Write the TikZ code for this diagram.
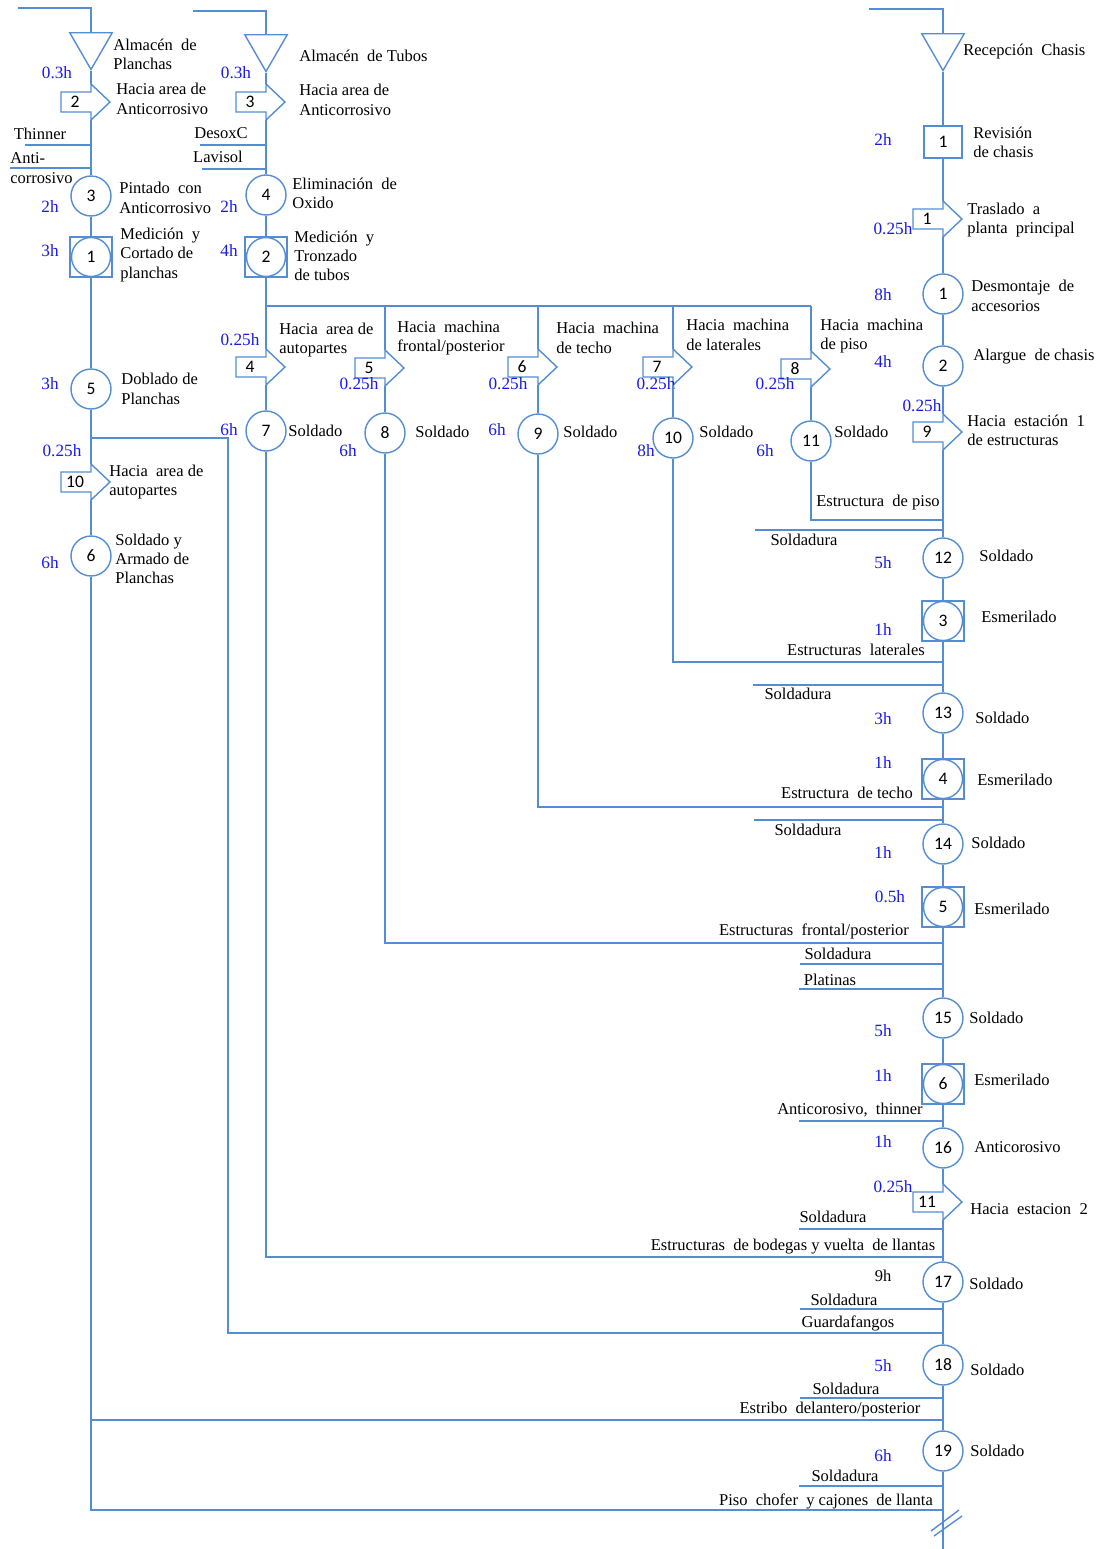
\documentclass[tikz,border=0pt]{standalone}
\usepackage{fontspec}
\setmainfont{Liberation Serif}
\newfontfamily\numfont{Carlito}
\usetikzlibrary{shapes.geometric}
\definecolor{flujo}{RGB}{84,141,212}
\definecolor{tiempo}{RGB}{25,25,235}
\tikzset{
  flow/.style={draw=flujo, line width=0.8pt},
  op/.style={circle, draw=flujo, line width=0.8pt, minimum size=0.8cm, inner sep=0pt, font=\numfont\fontsize{10}{11}\selectfont},
  insp/.style={rectangle, draw=flujo, line width=0.8pt, minimum width=0.76cm, minimum height=0.64cm, inner sep=0pt, font=\numfont\fontsize{10}{11}\selectfont},
  combo/.style={rectangle, draw=flujo, line width=0.8pt, minimum width=0.84cm, minimum height=0.8cm, inner sep=0pt},
  store/.style={regular polygon, regular polygon sides=3, shape border rotate=180, draw=flujo, line width=0.8pt, minimum size=0.98cm, inner sep=0pt},
  num/.style={inner sep=0pt, font=\numfont\fontsize{10}{11}\selectfont},
  txt/.style={anchor=west, align=left, inner sep=0pt, font=\fontsize{9.4}{11}\selectfont},
  lbl/.style={inner sep=0pt, font=\fontsize{9.4}{11}\selectfont},
  hrs/.style={inner sep=0pt, text=tiempo, font=\fontsize{9.8}{11}\selectfont},
}
\newcommand{\Traslado}[4]{
    \draw[flow] (#2-30,#3-10) -- (#2,#3-10) -- (#2,#3-18) -- (#2+19,#3) -- (#2,#3+18) -- (#2,#3+10) -- (#2-30,#3+10) -- cycle;
    \node[num] (#1) at (#2-16,#3) {#4};
    \coordinate (#1t) at (#2,#3-18);
    \coordinate (#1b) at (#2,#3+18);
}
\newcommand{\OpInsp}[4]{
    \node[combo] (#1) at (#2,#3) {};
    \node[op, minimum size=0.78cm] (#1c) at (#2,#3) {#4};
}

\begin{document}
\begin{tikzpicture}[x=0.02cm, y=-0.02cm]
    \useasboundingbox (0,0) rectangle (1100,1549);

    \coordinate (in1) at (18,8);
    \node[store] (t1) at (91,45) {};
    \node[txt] (lt1) at (113,54) {Almacén~ de\\Planchas};
    \node[hrs] (h1) at (57,73) {0.3h};
    \Traslado{a2}{91}{102}{2}
    \node[txt] (la2) at (116,99) {Hacia area de\\Anticorrosivo};
    \node[lbl] (lthin) at (40,134) {Thinner};
    \coordinate (inThin) at (25,145);
    \node[txt] (lanti) at (10,168) {Anti-\\corrosivo};
    \coordinate (inAnti) at (10,168);
    \node[op] (o3) at (91,196) {3};
    \node[txt] (lo3) at (119,198) {Pintado~ con\\Anticorrosivo};
    \node[hrs] (h2) at (50,207) {2h};
    \OpInsp{c1}{91}{257}{1}
    \node[txt] (lc1) at (120,255) {Medición~ y\\Cortado de\\planchas};
    \node[hrs] (h3) at (50,251) {3h};
    \node[op] (o5) at (91,389) {5};
    \node[txt] (lo5) at (121,389) {Doblado de\\Planchas};
    \node[hrs] (h4) at (50,384) {3h};
    \coordinate (jG) at (91,438);
    \node[hrs] (h5) at (62,451) {0.25h};
    \Traslado{a10}{91}{482}{10}
    \node[txt] (la10) at (109,482) {Hacia~ area de\\autopartes};
    \node[op] (o6) at (91,556) {6};
    \node[txt] (lo6) at (115,559) {Soldado y\\Armado de\\Planchas};
    \node[hrs] (h6) at (50,563) {6h};
    \coordinate (jE) at (91,1420);
    \coordinate (jP) at (91,1510);

    \coordinate (in2) at (193,11);
    \node[store] (t2) at (266,47) {};
    \node[txt] (lt2) at (299,56) {Almacén~ de Tubos};
    \node[hrs] (h7) at (236,73) {0.3h};
    \Traslado{a3}{266}{102}{3}
    \node[txt] (la3) at (299,100) {Hacia area de\\Anticorrosivo};
    \node[lbl] (ldes) at (221,133) {DesoxC};
    \coordinate (inDes) at (200,145);
    \node[lbl] (llav) at (218,157) {Lavisol};
    \coordinate (inLav) at (202,169);
    \node[op] (o4) at (266,195) {4};
    \node[txt] (lo4) at (292,193) {Eliminación~ de\\Oxido};
    \node[hrs] (h8) at (229,207) {2h};
    \OpInsp{c2}{266}{257}{2}
    \node[txt] (lc2) at (294,256) {Medición~ y\\Tronzado\\de tubos};
    \node[hrs] (h9) at (229,251) {4h};
    \coordinate (j2) at (266,306);
    \coordinate (jB) at (385,306);
    \coordinate (jC) at (538,306);
    \coordinate (jD) at (673,306);
    \coordinate (jF) at (811,306);

    \Traslado{a4}{266}{367}{4}
    \node[hrs] (h10) at (240,340) {0.25h};
    \node[txt] (la4) at (279,340) {Hacia~ area de\\autopartes};
    \node[op] (o7) at (266,431) {7};
    \node[txt] (lo7) at (288,431) {Soldado};
    \node[hrs] (h11) at (229,430) {6h};

    \Traslado{a5}{385}{368}{5}
    \node[txt] (la5) at (397,338) {Hacia~ machina\\frontal/posterior};
    \node[hrs] (h12) at (359,384) {0.25h};
    \node[op] (o8) at (385,433) {8};
    \node[txt] (lo8) at (415,432) {Soldado};
    \node[hrs] (h13) at (348,451) {6h};

    \Traslado{a6}{538}{367}{6}
    \node[txt] (la6) at (556,338) {Hacia~ machina\\de techo};
    \node[hrs] (h14) at (508,384) {0.25h};
    \node[op] (o9) at (538,434) {9};
    \node[txt] (lo9) at (563,432) {Soldado};
    \node[hrs] (h15) at (497,430) {6h};

    \Traslado{a7}{673}{367}{7}
    \node[txt] (la7) at (686,335) {Hacia~ machina\\de laterales};
    \node[hrs] (h16) at (656,384) {0.25h};
    \node[op] (o10) at (673,438) {10};
    \node[txt] (lo10) at (699,432) {Soldado};
    \node[hrs] (h17) at (646,451) {8h};

    \Traslado{a8}{811}{369}{8}
    \node[txt] (la8) at (820,336) {Hacia~ machina\\de piso};
    \node[hrs] (h18) at (775,384) {0.25h};
    \node[op] (o11) at (811,441) {11};
    \node[txt] (lo11) at (834,432) {Soldado};
    \node[hrs] (h19) at (765,451) {6h};

    \coordinate (in3) at (869,9);
    \node[store] (t3) at (943,46) {};
    \node[txt] (lt3) at (963,52) {Recepción~ Chasis};
    \node[insp] (r1) at (943,142) {1};
    \node[txt] (lr1) at (973,142) {Revisión\\de chasis};
    \node[hrs] (h20) at (883,140) {2h};
    \Traslado{a1}{943}{219}{1}
    \node[txt] (la1) at (967,220) {Traslado~ a\\planta~ principal};
    \node[hrs] (h21) at (893,229) {0.25h};
    \node[op] (d1) at (943,294) {1};
    \node[txt] (ld1) at (971,296) {Desmontaje~ de\\accesorios};
    \node[hrs] (h22) at (883,295) {8h};
    \node[op] (d2) at (943,366) {2};
    \node[txt] (ld2) at (973,357) {Alargue~ de chasis};
    \node[hrs] (h23) at (883,362) {4h};
    \Traslado{a9}{943}{432}{9}
    \node[hrs] (h24) at (922,406) {0.25h};
    \node[txt] (la9) at (967,430) {Hacia~ estación~ 1\\de estructuras};
    \node[lbl] (lpiso) at (878,503) {Estructura~ de piso};
    \coordinate (jPiso) at (943,520);
    \coordinate (s1) at (755,530);
    \node[lbl] (ls1) at (804,540) {Soldadura};
    \node[op] (o12) at (943,558) {12};
    \node[txt] (lo12) at (979,556) {Soldado};
    \node[hrs] (h25) at (883,563) {5h};
    \OpInsp{e3}{943}{621}{3}
    \node[txt] (le3) at (981,617) {Esmerilado};
    \node[hrs] (h26) at (883,630) {1h};
    \node[lbl] (llat) at (856,650) {Estructuras~ laterales};
    \coordinate (jLat) at (943,662);
    \coordinate (s2) at (753,685);
    \node[lbl] (ls2) at (798,694) {Soldadura};
    \node[op] (o13) at (943,713) {13};
    \node[txt] (lo13) at (975,718) {Soldado};
    \node[hrs] (h27) at (883,719) {3h};
    \OpInsp{e4}{943}{779}{4}
    \node[txt] (le4) at (977,780) {Esmerilado};
    \node[hrs] (h28) at (883,763) {1h};
    \node[lbl] (ltecho) at (847,793) {Estructura~ de techo};
    \coordinate (jTecho) at (943,807);
    \coordinate (s3) at (754,820);
    \node[lbl] (ls3) at (808,830) {Soldadura};
    \node[op] (o14) at (943,844) {14};
    \node[txt] (lo14) at (971,843) {Soldado};
    \node[hrs] (h29) at (883,853) {1h};
    \OpInsp{e5}{943}{907}{5}
    \node[txt] (le5) at (974,909) {Esmerilado};
    \node[hrs] (h30) at (890,897) {0.5h};
    \node[lbl] (lfront) at (814,931) {Estructuras~ frontal/posterior};
    \coordinate (jFront) at (943,943);
    \node[lbl] (ls4) at (838,954) {Soldadura};
    \coordinate (s4) at (800,964);
    \node[lbl] (lplat) at (830,980) {Platinas};
    \coordinate (s5) at (799,989);
    \node[op] (o15) at (943,1018) {15};
    \node[txt] (lo15) at (969,1018) {Soldado};
    \node[hrs] (h31) at (883,1031) {5h};
    \OpInsp{e6}{943}{1084}{6}
    \node[txt] (le6) at (974,1080) {Esmerilado};
    \node[hrs] (h32) at (883,1076) {1h};
    \node[lbl] (lanth) at (850,1110) {Anticorosivo,~ thinner};
    \coordinate (s6) at (799,1121);
    \node[op] (o16) at (943,1148) {16};
    \node[txt] (lo16) at (974,1147) {Anticorosivo};
    \node[hrs] (h33) at (883,1142) {1h};
    \Traslado{a11}{943}{1202}{11}
    \node[hrs] (h34) at (893,1187) {0.25h};
    \node[txt] (la11) at (970,1209) {Hacia~ estacion~ 2};
    \node[lbl] (ls7) at (833,1217) {Soldadura};
    \coordinate (s7) at (799,1229);
    \node[lbl] (lbod) at (793,1247) {Estructuras~ de bodegas y vuelta~ de llantas};
    \coordinate (jBod) at (943,1257);
    \node[op] (o17) at (943,1282) {17};
    \node[txt] (lo17) at (969,1284) {Soldado};
    \node[lbl] (h35) at (883,1276) {9h};
    \node[lbl] (ls8) at (844,1300) {Soldadura};
    \coordinate (s8) at (800,1309);
    \node[lbl] (lguar) at (848,1323) {Guardafangos};
    \coordinate (jGR) at (943,1333);
    \node[op] (o18) at (943,1365) {18};
    \node[txt] (lo18) at (970,1370) {Soldado};
    \node[hrs] (h36) at (883,1366) {5h};
    \node[lbl] (ls9) at (846,1389) {Soldadura};
    \coordinate (s9) at (800,1398);
    \node[lbl] (lestr) at (830,1410) {Estribo~ delantero/posterior};
    \coordinate (jER) at (943,1420);
    \node[op] (o19) at (943,1451) {19};
    \node[txt] (lo19) at (970,1451) {Soldado};
    \node[hrs] (h37) at (883,1456) {6h};
    \node[lbl] (ls10) at (845,1476) {Soldadura};
    \coordinate (s10) at (799,1486);
    \node[lbl] (lchof) at (826,1501) {Piso~ chofer~ y cajones~ de llanta};
    \coordinate (jPR) at (943,1510);
    \coordinate (fin) at (943,1549);

    \draw[flow] (in1) -| (t1);
    \draw[flow] (t1) -- (a2t);
    \draw[flow] (a2b) -- (o3);
    \draw[flow] (inThin) -- (inThin -| o3);
    \draw[flow] (inAnti) -- (inAnti -| o3);
    \draw[flow] (o3) -- (c1);
    \draw[flow] (c1) -- (o5);
    \draw[flow] (o5) -- (a10t);
    \draw[flow] (a10b) -- (o6);
    \draw[flow] (o6) -- (jP) -- (jPR);
    \draw[flow] (jE) -- (jER);
    \draw[flow] (jG) -- (228,438) -- (228,1333) -- (jGR);

    \draw[flow] (in2) -| (t2);
    \draw[flow] (t2) -- (a3t);
    \draw[flow] (a3b) -- (o4);
    \draw[flow] (inDes) -- (inDes -| o4);
    \draw[flow] (inLav) -- (inLav -| o4);
    \draw[flow] (o4) -- (c2);
    \draw[flow] (c2) -- (j2) -- (jF);
    \draw[flow] (j2) -- (a4t);
    \draw[flow] (jB) -- (a5t);
    \draw[flow] (jC) -- (a6t);
    \draw[flow] (jD) -- (a7t);
    \draw[flow] (jF) -- (a8t);
    \draw[flow] (a4b) -- (o7);
    \draw[flow] (a5b) -- (o8);
    \draw[flow] (a6b) -- (o9);
    \draw[flow] (a7b) -- (o10);
    \draw[flow] (a8b) -- (o11);
    \draw[flow] (o7) |- (jBod);
    \draw[flow] (o8) |- (jFront);
    \draw[flow] (o9) |- (jTecho);
    \draw[flow] (o10) |- (jLat);
    \draw[flow] (o11) |- (jPiso);

    \draw[flow] (in3) -| (t3);
    \draw[flow] (t3) -- (r1);
    \draw[flow] (r1) -- (a1t);
    \draw[flow] (a1b) -- (d1);
    \draw[flow] (d1) -- (d2);
    \draw[flow] (d2) -- (a9t);
    \draw[flow] (a9b) -- (o12);
    \draw[flow] (o12) -- (e3);
    \draw[flow] (e3) -- (o13);
    \draw[flow] (o13) -- (e4);
    \draw[flow] (e4) -- (o14);
    \draw[flow] (o14) -- (e5);
    \draw[flow] (e5) -- (o15);
    \draw[flow] (o15) -- (e6);
    \draw[flow] (e6) -- (o16);
    \draw[flow] (o16) -- (a11t);
    \draw[flow] (a11b) -- (o17);
    \draw[flow] (o17) -- (o18);
    \draw[flow] (o18) -- (o19);
    \draw[flow] (o19) -- (fin);
    \foreach \s in {s1,s2,s3,s4,s5,s6,s7,s8,s9,s10}
        \draw[flow] (\s) -- (\s -| fin);
    \draw[flow] (931,1531) -- (959,1510);
    \draw[flow] (934,1536) -- (962,1516);
\end{tikzpicture}
\end{document}
